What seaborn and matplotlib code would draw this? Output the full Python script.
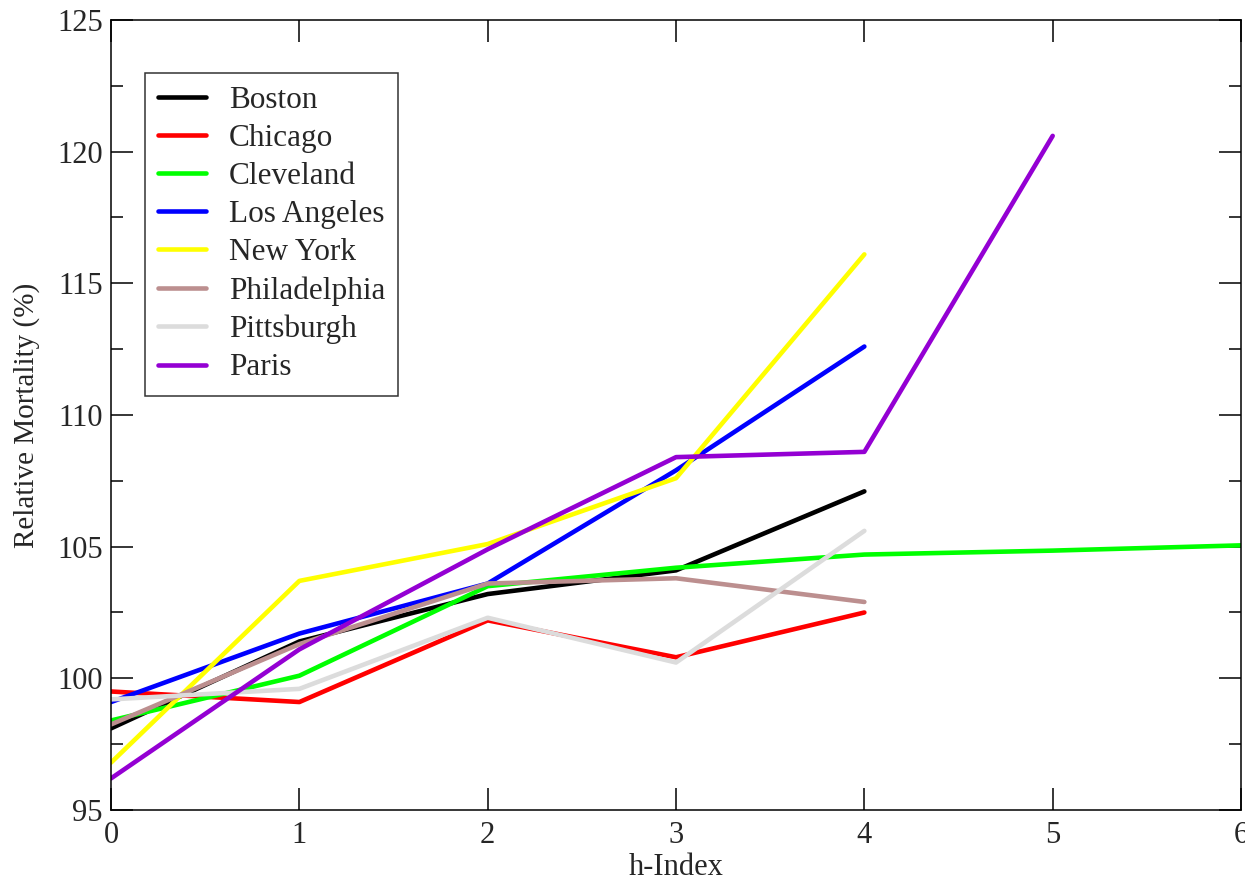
import matplotlib
matplotlib.use("Agg")
import matplotlib.pyplot as plt
from matplotlib.ticker import MultipleLocator
import seaborn as sns
import pandas as pd

h_index = [0, 1, 2, 3, 4, 5, 6]
cities = ["Boston", "Chicago", "Cleveland", "Los Angeles", "New York",
          "Philadelphia", "Pittsburgh", "Paris"]
boston = [98.1, 101.4, 103.2, 104.1, 107.1]
chicago = [99.5, 99.1, 102.2, 100.8, 102.5]
cleveland = [98.4, 100.1, 103.5, 104.2, 104.7, 104.85, 105.05]
los_angeles = [99.1, 101.7, 103.6, 107.9, 112.6]
new_york = [96.8, 103.7, 105.1, 107.6, 116.1]
philadelphia = [98.25, 101.3, 103.6, 103.8, 102.9]
pittsburgh = [99.2, 99.6, 102.3, 100.6, 105.6]
paris = [96.2, 101.1, 104.9, 108.4, 108.6, 120.6]
colors = ["#000000", "#ff0000", "#00ff00", "#0000ff", "#ffff00",
          "#bc8f8f", "#dcdcdc", "#9400d3"]

series = [boston, chicago, cleveland, los_angeles, new_york,
          philadelphia, pittsburgh, paris]
rows = []
for city, vals in zip(cities, series):
    for x, v in zip(h_index, vals):
        rows.append({"h-Index": x, "value": v, "city": city})
df = pd.DataFrame(rows)

sns.set_theme(style="ticks")
plt.rcParams["font.family"] = ["Liberation Serif", "DejaVu Serif"]

fig = plt.figure(figsize=(12.45, 8.81), dpi=100)
ax = fig.add_axes([0.0892, 0.0806, 0.9076, 0.8967])

sns.lineplot(data=df, x="h-Index", y="value", hue="city", hue_order=cities,
             palette=dict(zip(cities, colors)), linewidth=3.3, ax=ax,
             sort=False, estimator=None)

ax.set_xlim(0, 6)
ax.set_ylim(95, 125)
ax.xaxis.set_major_locator(MultipleLocator(1))
ax.yaxis.set_major_locator(MultipleLocator(5))
ax.yaxis.set_minor_locator(MultipleLocator(2.5))
ax.tick_params(which="both", direction="in", top=True, right=True,
               labelsize=22, width=1.1, color="black")
ax.tick_params(which="major", length=16)
ax.tick_params(which="minor", length=8.5)
ax.tick_params(axis="y", pad=6)
ax.tick_params(axis="x", pad=8)
for s in ax.spines.values():
    s.set_linewidth(1.1)
    s.set_color("black")

ax.set_xlabel("h-Index", fontsize=22, labelpad=2)
ax.set_ylabel("Relative Mortality (%)", fontsize=21, labelpad=12)

leg = ax.legend(loc="upper left", bbox_to_anchor=(0.030, 0.933), fontsize=22.5,
                frameon=True, fancybox=False, edgecolor="black",
                handlelength=1.54, handletextpad=0.72, borderpad=0.42,
                labelspacing=0.29, borderaxespad=0)
leg.get_frame().set_linewidth(1.1)
for line in leg.get_lines():
    line.set_linewidth(3.3)

fig.savefig("out.png", dpi=100)
